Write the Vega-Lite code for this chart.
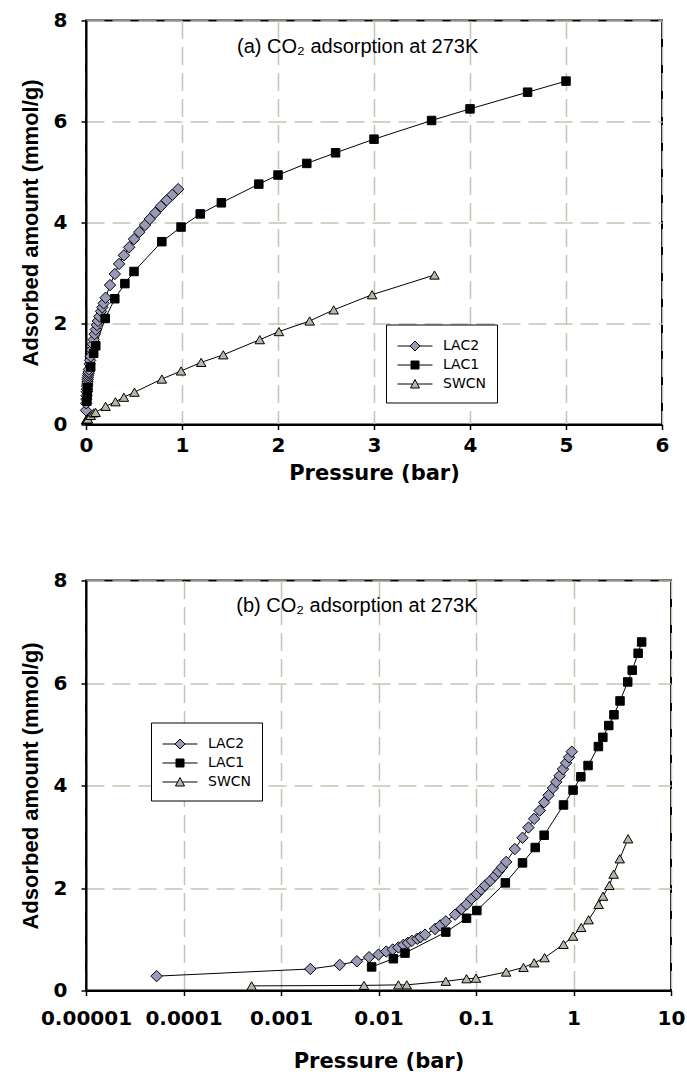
{
  "$schema": "https://vega.github.io/schema/vega-lite/v6.json",
  "background": "white",
  "padding": {"left": 18, "top": 9.5, "right": 5, "bottom": 5},
  "spacing": 85,
  "config": {
    "font": "DejaVu Sans",
    "view": {"stroke": "black", "strokeWidth": 2},
    "axis": {
      "domainColor": "black", "domainWidth": 2,
      "tickColor": "black", "tickSize": 5, "tickWidth": 1.5,
      "labelFont": "DejaVu Sans", "labelFontWeight": "bold", "labelFontSize": 20, "labelColor": "black",
      "labelFlush": false, "labelOverlap": false,
      "titleFont": "DejaVu Sans", "titleFontWeight": "bold", "titleFontSize": 21, "titleColor": "black",
      "gridColor": "#c4c4b4", "gridDash": [18, 8], "gridWidth": 1.5
    },
    "axisY": {"labelPadding": 14, "titlePadding": 11, "titleFont": "Liberation Sans", "titleFontSize": 22},
    "legend": {
      "title": null, "strokeColor": "black", "fillColor": "white", "padding": 11,
      "labelFont": "DejaVu Sans", "labelFontSize": 14, "labelColor": "black",
      "labelOffset": 25, "rowPadding": 1, "symbolSize": 400, "symbolOpacity": 1,
      "symbolStrokeWidth": 1
    }
  },
  "resolve": {
    "scale": {"fill": "independent", "shape": "independent", "stroke": "independent"},
    "legend": {"fill": "independent", "shape": "independent", "stroke": "independent"}
  },
  "datasets": {
    "iso": [
      {"s": "LAC2", "p": 0.000053, "q": 0.28},
      {"s": "LAC2", "p": 0.002, "q": 0.42},
      {"s": "LAC2", "p": 0.004, "q": 0.50},
      {"s": "LAC2", "p": 0.006, "q": 0.57},
      {"s": "LAC2", "p": 0.008, "q": 0.65},
      {"s": "LAC2", "p": 0.010, "q": 0.70},
      {"s": "LAC2", "p": 0.012, "q": 0.76},
      {"s": "LAC2", "p": 0.014, "q": 0.80},
      {"s": "LAC2", "p": 0.016, "q": 0.84},
      {"s": "LAC2", "p": 0.018, "q": 0.89},
      {"s": "LAC2", "p": 0.020, "q": 0.93},
      {"s": "LAC2", "p": 0.022, "q": 0.97},
      {"s": "LAC2", "p": 0.025, "q": 1.01},
      {"s": "LAC2", "p": 0.027, "q": 1.04},
      {"s": "LAC2", "p": 0.030, "q": 1.09},
      {"s": "LAC2", "p": 0.038, "q": 1.20},
      {"s": "LAC2", "p": 0.043, "q": 1.27},
      {"s": "LAC2", "p": 0.049, "q": 1.35},
      {"s": "LAC2", "p": 0.061, "q": 1.48},
      {"s": "LAC2", "p": 0.071, "q": 1.59},
      {"s": "LAC2", "p": 0.080, "q": 1.68},
      {"s": "LAC2", "p": 0.090, "q": 1.79},
      {"s": "LAC2", "p": 0.102, "q": 1.88},
      {"s": "LAC2", "p": 0.113, "q": 1.97},
      {"s": "LAC2", "p": 0.124, "q": 2.05},
      {"s": "LAC2", "p": 0.140, "q": 2.14},
      {"s": "LAC2", "p": 0.157, "q": 2.24},
      {"s": "LAC2", "p": 0.170, "q": 2.32},
      {"s": "LAC2", "p": 0.184, "q": 2.40},
      {"s": "LAC2", "p": 0.204, "q": 2.51},
      {"s": "LAC2", "p": 0.250, "q": 2.76},
      {"s": "LAC2", "p": 0.300, "q": 2.98},
      {"s": "LAC2", "p": 0.345, "q": 3.18},
      {"s": "LAC2", "p": 0.395, "q": 3.35},
      {"s": "LAC2", "p": 0.450, "q": 3.51},
      {"s": "LAC2", "p": 0.500, "q": 3.67},
      {"s": "LAC2", "p": 0.555, "q": 3.81},
      {"s": "LAC2", "p": 0.615, "q": 3.95},
      {"s": "LAC2", "p": 0.665, "q": 4.07},
      {"s": "LAC2", "p": 0.720, "q": 4.19},
      {"s": "LAC2", "p": 0.780, "q": 4.32},
      {"s": "LAC2", "p": 0.840, "q": 4.44},
      {"s": "LAC2", "p": 0.900, "q": 4.55},
      {"s": "LAC2", "p": 0.960, "q": 4.66},
      {"s": "LAC1", "p": 0.0085, "q": 0.46},
      {"s": "LAC1", "p": 0.0142, "q": 0.62},
      {"s": "LAC1", "p": 0.0187, "q": 0.73},
      {"s": "LAC1", "p": 0.049, "q": 1.14},
      {"s": "LAC1", "p": 0.080, "q": 1.41},
      {"s": "LAC1", "p": 0.102, "q": 1.56},
      {"s": "LAC1", "p": 0.20, "q": 2.10},
      {"s": "LAC1", "p": 0.30, "q": 2.49},
      {"s": "LAC1", "p": 0.405, "q": 2.79},
      {"s": "LAC1", "p": 0.50, "q": 3.03},
      {"s": "LAC1", "p": 0.79, "q": 3.62},
      {"s": "LAC1", "p": 0.99, "q": 3.91},
      {"s": "LAC1", "p": 1.19, "q": 4.17},
      {"s": "LAC1", "p": 1.41, "q": 4.39},
      {"s": "LAC1", "p": 1.80, "q": 4.76},
      {"s": "LAC1", "p": 2.0, "q": 4.94},
      {"s": "LAC1", "p": 2.3, "q": 5.17},
      {"s": "LAC1", "p": 2.6, "q": 5.38},
      {"s": "LAC1", "p": 3.0, "q": 5.65},
      {"s": "LAC1", "p": 3.6, "q": 6.02},
      {"s": "LAC1", "p": 4.0, "q": 6.25},
      {"s": "LAC1", "p": 4.6, "q": 6.58},
      {"s": "LAC1", "p": 5.0, "q": 6.80},
      {"s": "SWCN", "p": 0.0005, "q": 0.09},
      {"s": "SWCN", "p": 0.0071, "q": 0.10},
      {"s": "SWCN", "p": 0.016, "q": 0.11},
      {"s": "SWCN", "p": 0.0195, "q": 0.11},
      {"s": "SWCN", "p": 0.049, "q": 0.18},
      {"s": "SWCN", "p": 0.080, "q": 0.23},
      {"s": "SWCN", "p": 0.10, "q": 0.24},
      {"s": "SWCN", "p": 0.204, "q": 0.36},
      {"s": "SWCN", "p": 0.307, "q": 0.45},
      {"s": "SWCN", "p": 0.395, "q": 0.54},
      {"s": "SWCN", "p": 0.505, "q": 0.64},
      {"s": "SWCN", "p": 0.79, "q": 0.90},
      {"s": "SWCN", "p": 0.99, "q": 1.06},
      {"s": "SWCN", "p": 1.20, "q": 1.23},
      {"s": "SWCN", "p": 1.43, "q": 1.38},
      {"s": "SWCN", "p": 1.81, "q": 1.68},
      {"s": "SWCN", "p": 2.01, "q": 1.84},
      {"s": "SWCN", "p": 2.33, "q": 2.05},
      {"s": "SWCN", "p": 2.58, "q": 2.27},
      {"s": "SWCN", "p": 2.98, "q": 2.57},
      {"s": "SWCN", "p": 3.63, "q": 2.96}
    ]
  },
  "vconcat": [
    {
      "width": 576,
      "height": 404,
      "layer": [
        {"data": {"name": "iso"},
         "mark": {"type": "line", "color": "black", "strokeWidth": 1},
         "encoding": {
           "x": {"field": "p", "type": "quantitative", "title": "Pressure (bar)",
                 "scale": {"domain": [0, 6], "nice": false},
                 "axis": {"values": [0, 1, 2, 3, 4, 5, 6], "format": "d", "grid": true, "labelPadding": 6, "titlePadding": 7}},
           "y": {"field": "q", "type": "quantitative", "title": "Adsorbed amount (mmol/g)",
                 "scale": {"domain": [0, 8], "nice": false},
                 "axis": {"values": [0, 2, 4, 6, 8], "format": "d", "grid": true}},
           "detail": {"field": "s"}, "order": {"field": "p"}}},
        {"data": {"name": "iso"},
         "transform": [{"filter": "datum.s === 'LAC2'"}],
         "mark": {"type": "point", "shape": "diamond", "filled": true, "fill": "#9999b8", "stroke": "black", "strokeWidth": 1, "opacity": 1, "size": 130},
         "encoding": {"x": {"field": "p", "type": "quantitative"}, "y": {"field": "q", "type": "quantitative"}}},
        {"data": {"name": "iso"},
         "transform": [{"filter": "datum.s === 'LAC1'"}],
         "mark": {"type": "point", "shape": "square", "filled": true, "fill": "#000000", "stroke": "black", "strokeWidth": 1, "opacity": 1, "size": 72},
         "encoding": {"x": {"field": "p", "type": "quantitative"}, "y": {"field": "q", "type": "quantitative"}}},
        {"data": {"name": "iso"},
         "transform": [{"filter": "datum.s === 'SWCN'"}],
         "mark": {"type": "point", "shape": "triangle-up", "filled": true, "fill": "#b8b8a8", "stroke": "black", "strokeWidth": 1, "opacity": 1, "size": 90},
         "encoding": {"x": {"field": "p", "type": "quantitative"}, "y": {"field": "q", "type": "quantitative"}}},
        {"data": {"name": "iso"},
         "mark": {"type": "point", "filled": true, "strokeWidth": 1, "opacity": 0},
         "encoding": {
           "x": {"field": "p", "type": "quantitative"},
           "y": {"field": "q", "type": "quantitative"},
           "shape": {"field": "s", "type": "nominal",
                     "scale": {"domain": ["LAC2", "LAC1", "SWCN"],
                               "range": ["M-1,0L0.25,0M1.25,0L2.5,0M0.25,0L0.75,-0.5L1.25,0L0.75,0.5Z",
                                         "M-1,0L0.35,0M1.15,0L2.5,0M0.35,-0.4L1.15,-0.4L1.15,0.4L0.35,0.4Z",
                                         "M-1,0L0.51,0M0.99,0L2.5,0M0.3,0.4L1.2,0.4L0.75,-0.45Z"]},
                     "legend": {"orient": "none", "legendX": 300, "legendY": 304, "labelExpr": "datum.label + '   '"}},
           "fill": {"field": "s", "type": "nominal",
                    "scale": {"domain": ["LAC2", "LAC1", "SWCN"], "range": ["#9999b8", "#000000", "#b8b8a8"]},
                    "legend": {"orient": "none", "legendX": 300, "legendY": 304, "labelExpr": "datum.label + '   '"}},
           "stroke": {"field": "s", "type": "nominal",
                      "scale": {"domain": ["LAC2", "LAC1", "SWCN"], "range": ["#000000", "#000000", "#000000"]},
                      "legend": {"orient": "none", "legendX": 300, "legendY": 304, "labelExpr": "datum.label + '   '"}}
         }},
        {"data": {"values": [{"t": "(a) CO₂ adsorption at 273K"}]},
         "mark": {"type": "text", "font": "Liberation Sans", "fontSize": 20, "color": "black"},
         "encoding": {"x": {"datum": 2.83}, "y": {"datum": 7.48}, "text": {"field": "t"}}}
      ]
    },
    {
      "width": 585,
      "height": 410,
      "layer": [
        {"data": {"name": "iso"},
         "mark": {"type": "line", "color": "black", "strokeWidth": 1},
         "encoding": {
           "x": {"field": "p", "type": "quantitative", "title": "Pressure (bar)",
                 "scale": {"type": "log", "domain": [0.00001, 10], "nice": false},
                 "axis": {"values": [0.00001, 0.0001, 0.001, 0.01, 0.1, 1, 10], "format": ".5~f", "grid": true,
                          "labelPadding": 13, "titlePadding": 22}},
           "y": {"field": "q", "type": "quantitative", "title": "Adsorbed amount (mmol/g)",
                 "scale": {"domain": [0, 8], "nice": false},
                 "axis": {"values": [0, 2, 4, 6, 8], "format": "d", "grid": true}},
           "detail": {"field": "s"}, "order": {"field": "p"}}},
        {"data": {"name": "iso"},
         "transform": [{"filter": "datum.s === 'LAC2'"}],
         "mark": {"type": "point", "shape": "diamond", "filled": true, "fill": "#9999b8", "stroke": "black", "strokeWidth": 1, "opacity": 1, "size": 130},
         "encoding": {"x": {"field": "p", "type": "quantitative"}, "y": {"field": "q", "type": "quantitative"}}},
        {"data": {"name": "iso"},
         "transform": [{"filter": "datum.s === 'LAC1'"}],
         "mark": {"type": "point", "shape": "square", "filled": true, "fill": "#000000", "stroke": "black", "strokeWidth": 1, "opacity": 1, "size": 72},
         "encoding": {"x": {"field": "p", "type": "quantitative"}, "y": {"field": "q", "type": "quantitative"}}},
        {"data": {"name": "iso"},
         "transform": [{"filter": "datum.s === 'SWCN'"}],
         "mark": {"type": "point", "shape": "triangle-up", "filled": true, "fill": "#b8b8a8", "stroke": "black", "strokeWidth": 1, "opacity": 1, "size": 90},
         "encoding": {"x": {"field": "p", "type": "quantitative"}, "y": {"field": "q", "type": "quantitative"}}},
        {"data": {"name": "iso"},
         "mark": {"type": "point", "filled": true, "strokeWidth": 1, "opacity": 0},
         "encoding": {
           "x": {"field": "p", "type": "quantitative"},
           "y": {"field": "q", "type": "quantitative"},
           "shape": {"field": "s", "type": "nominal",
                     "scale": {"domain": ["LAC2", "LAC1", "SWCN"],
                               "range": ["M-1,0L0.25,0M1.25,0L2.5,0M0.25,0L0.75,-0.5L1.25,0L0.75,0.5Z",
                                         "M-1,0L0.35,0M1.15,0L2.5,0M0.35,-0.4L1.15,-0.4L1.15,0.4L0.35,0.4Z",
                                         "M-1,0L0.51,0M0.99,0L2.5,0M0.3,0.4L1.2,0.4L0.75,-0.45Z"]},
                     "legend": {"orient": "none", "legendX": 65, "legendY": 142, "labelExpr": "datum.label + '   '"}},
           "fill": {"field": "s", "type": "nominal",
                    "scale": {"domain": ["LAC2", "LAC1", "SWCN"], "range": ["#9999b8", "#000000", "#b8b8a8"]},
                    "legend": {"orient": "none", "legendX": 65, "legendY": 142, "labelExpr": "datum.label + '   '"}},
           "stroke": {"field": "s", "type": "nominal",
                      "scale": {"domain": ["LAC2", "LAC1", "SWCN"], "range": ["#000000", "#000000", "#000000"]},
                      "legend": {"orient": "none", "legendX": 65, "legendY": 142, "labelExpr": "datum.label + '   '"}}
         }},
        {"data": {"values": [{"t": "(b) CO₂ adsorption at 273K"}]},
         "mark": {"type": "text", "font": "Liberation Sans", "fontSize": 20, "color": "black"},
         "encoding": {"x": {"datum": 0.006}, "y": {"datum": 7.5}, "text": {"field": "t"}}}
      ]
    }
  ]
}
